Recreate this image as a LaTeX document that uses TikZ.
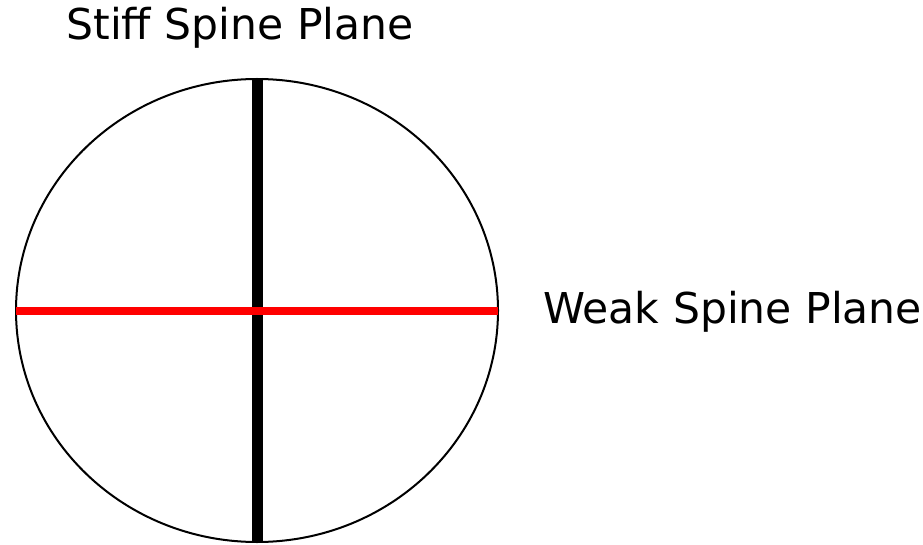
\documentclass[tikz,border=0pt]{standalone}
\usepackage{fontspec}
\setmainfont{DejaVu Sans}
\usetikzlibrary{shapes.geometric}
\begin{document}
\begin{tikzpicture}[x=1pt,y=-1pt,
  lbl/.style={inner sep=0pt,font=\fontsize{42.5}{48}\selectfont}]
\useasboundingbox (0,0) rectangle (923,545);
\node[draw, line width=2pt, ellipse, minimum width=482pt, minimum height=463pt, inner sep=0pt] (c) at (257,310.5) {};
\coordinate (top) at (257.5,78);
\coordinate (bot) at (257.5,543);
\coordinate (lft) at (16,311);
\coordinate (rgt) at (498,311);
\draw[line width=11pt] (top) -- (bot);
\draw[red, line width=8pt] (lft) -- (rgt);
\node[lbl, anchor=base] (t1) at (240,40) {Stiff Spine Plane};
\node[lbl, anchor=base west] (t2) at (543,323) {Weak Spine Plane};
\end{tikzpicture}
\end{document}
